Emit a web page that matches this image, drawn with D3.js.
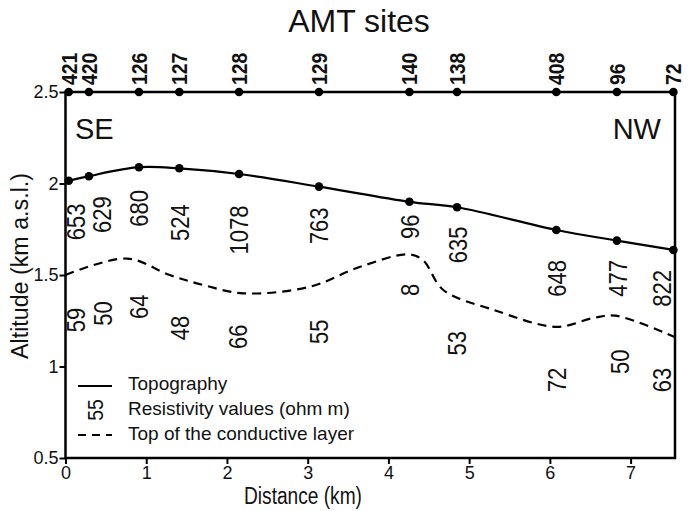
<!DOCTYPE html>
<html lang="en">
<head>
<meta charset="utf-8">
<title>AMT sites profile</title>
<script src="https://cdn.jsdelivr.net/npm/d3@7/dist/d3.min.js"></script>
<style>
body { margin: 0; background: #fff; }
text { font-family: "Liberation Sans", Arial, sans-serif; fill: #111; }
.tick line { stroke: #000; stroke-width: 2px; }
.tick text { font-size: 18px; }
.frame { fill: none; stroke: #000; stroke-width: 2.5px; }
.topo { fill: none; stroke: #000; stroke-width: 2.2px; }
.cond { fill: none; stroke: #000; stroke-width: 2.2px; stroke-dasharray: 9 6; }
.res { font-size: 25px; }
.site { font-size: 22px; font-weight: bold; }
</style>
</head>
<body>
<script>
// AMT sites along the profile
var sites    = ["421", "420", "126", "127", "128", "129", "140", "138", "408", "96", "72"];
var siteDist = [0.04, 0.29, 0.91, 1.41, 2.15, 3.14, 4.26, 4.85, 6.08, 6.83, 7.53];
var topoAlt  = [2.015, 2.04, 2.089, 2.083, 2.052, 1.983, 1.90, 1.87, 1.746, 1.688, 1.637];

// top of the conductive layer (dashed)
var condDist = [0, 0.76, 1.29, 1.71, 2.2, 3.03, 3.65, 4.25, 4.43, 4.68, 5.3, 6.08, 6.54, 6.81, 7.55];
var condAlt  = [1.5, 1.59, 1.5, 1.445, 1.40, 1.436, 1.545, 1.613, 1.58, 1.418, 1.31, 1.217, 1.265, 1.278, 1.16];

// resistivity values (ohm m), label spot in km / km a.s.l.
var resValue = ["653", "629", "680", "524", "1078", "763", "96", "635", "648", "477", "822", "8",
                "59", "50", "64", "48", "66", "55", "53", "72", "50", "63"];
var resDist  = [0.14, 0.46, 0.92, 1.42, 2.16, 3.15, 4.27, 4.87, 6.09, 6.85, 7.40, 4.27,
                0.14, 0.47, 0.92, 1.42, 2.14, 3.15, 4.85, 6.09, 6.87, 7.40];
var resAlt   = [1.79, 1.83, 1.864, 1.786, 1.746, 1.768, 1.764, 1.664, 1.482, 1.482, 1.427, 1.418,
                1.254, 1.29, 1.327, 1.21, 1.163, 1.19, 1.127, 0.926, 1.026, 0.926];

var xTicks = [0, 1, 2, 3, 4, 5, 6, 7];
var yTicks = [0.5, 1, 1.5, 2, 2.5];
var legendItems = ["Topography", "Resistivity values (ohm m)", "Top of the conductive layer"];

var w = 690, h = 511;
var svg = d3.select("body").append("svg")
    .attr("width", w)
    .attr("height", h);

var x = d3.scaleLinear().domain([0, 7.55]).range([65.5, 675]);
var y = d3.scaleLinear().domain([0.5, 2.5]).range([458, 92]);

// axes (ticks only, frame drawn separately)
var xAxis = svg.append("g")
    .attr("transform", "translate(0," + y(0.5) + ")")
    .call(d3.axisBottom(x).tickValues(xTicks).tickSize(6).tickPadding(2).tickFormat(d3.format("")));
var yAxis = svg.append("g")
    .attr("transform", "translate(" + x(0) + ",0)")
    .call(d3.axisLeft(y).tickValues(yTicks).tickSize(6).tickPadding(1).tickFormat(d3.format("")));
xAxis.select(".domain").remove();
yAxis.select(".domain").remove();

svg.append("rect")
    .attr("class", "frame")
    .attr("x", x(0))
    .attr("y", y(2.5))
    .attr("width", x(7.55) - x(0))
    .attr("height", y(0.5) - y(2.5));

// axis titles
svg.append("text")
    .attr("x", 303).attr("y", 504)
    .attr("text-anchor", "middle")
    .attr("textLength", 118)
    .attr("lengthAdjust", "spacingAndGlyphs")
    .style("font-size", "23px")
    .text("Distance (km)");

svg.append("text")
    .attr("transform", "translate(28,266) rotate(-90)")
    .attr("text-anchor", "middle")
    .attr("textLength", 186)
    .attr("lengthAdjust", "spacingAndGlyphs")
    .style("font-size", "23px")
    .text("Altitude (km a.s.l.)");

svg.append("text")
    .attr("x", 359).attr("y", 32)
    .attr("text-anchor", "middle")
    .style("font-size", "32px")
    .text("AMT sites");

svg.append("text")
    .attr("x", 75).attr("y", 139)
    .style("font-size", "29px")
    .text("SE");
svg.append("text")
    .attr("x", 661).attr("y", 139)
    .attr("text-anchor", "end")
    .style("font-size", "29px")
    .text("NW");

// site markers on the top border
var siteData = sites.map(function(s, i){ return {name: s, d: siteDist[i], alt: topoAlt[i]}; });

svg.selectAll(".topdot").data(siteData).enter().append("circle")
    .attr("cx", function(d){ return x(d.d); })
    .attr("cy", y(2.5))
    .attr("r", 4.3);

svg.selectAll(".site").data(siteData).enter().append("text")
    .attr("class", "site")
    .attr("transform", function(d){ return "translate(" + x(d.d) + "," + (y(2.5) - 7) + ") rotate(-90) scale(0.88,1)"; })
    .attr("dominant-baseline", "central")
    .text(function(d){ return d.name; });

// topography
var curveLine = d3.line()
    .x(function(d){ return x(d.d); })
    .y(function(d){ return y(d.alt); })
    .curve(d3.curveCatmullRom.alpha(0.5));

svg.append("path")
    .datum(siteData)
    .attr("class", "topo")
    .attr("d", curveLine);

svg.selectAll(".topodot").data(siteData).enter().append("circle")
    .attr("cx", function(d){ return x(d.d); })
    .attr("cy", function(d){ return y(d.alt); })
    .attr("r", 4.3);

// conductive layer
var condData = condDist.map(function(v, i){ return {d: v, alt: condAlt[i]}; });
svg.append("path")
    .datum(condData)
    .attr("class", "cond")
    .attr("d", curveLine);

// resistivity labels
var resData = resValue.map(function(v, i){ return {v: v, d: resDist[i], alt: resAlt[i]}; });
svg.selectAll(".res").data(resData).enter().append("text")
    .attr("class", "res")
    .attr("text-anchor", "middle")
    .attr("dominant-baseline", "central")
    .attr("transform", function(d){ return "translate(" + x(d.d) + "," + y(d.alt) + ") rotate(-90) scale(0.88,1)"; })
    .text(function(d){ return d.v; });

// legend
var leg = svg.append("g");
leg.append("line")
    .attr("x1", 78).attr("x2", 112).attr("y1", 386).attr("y2", 386)
    .attr("stroke", "#000").attr("stroke-width", 2.2);
leg.append("text")
    .attr("class", "res")
    .attr("text-anchor", "middle")
    .attr("dominant-baseline", "central")
    .attr("transform", "translate(95,410) rotate(-90) scale(0.88,1)")
    .style("font-size", "22px")
    .text("55");
leg.append("line")
    .attr("x1", 78).attr("x2", 112).attr("y1", 435).attr("y2", 435)
    .attr("stroke", "#000").attr("stroke-width", 2.2)
    .attr("stroke-dasharray", "8 6");
leg.selectAll(".legtxt").data(legendItems).enter().append("text")
    .attr("x", 128)
    .attr("y", function(d, i){ return 390 + i * 25; })
    .style("font-size", "19px")
    .text(function(d){ return d; });
</script>
</body>
</html>
